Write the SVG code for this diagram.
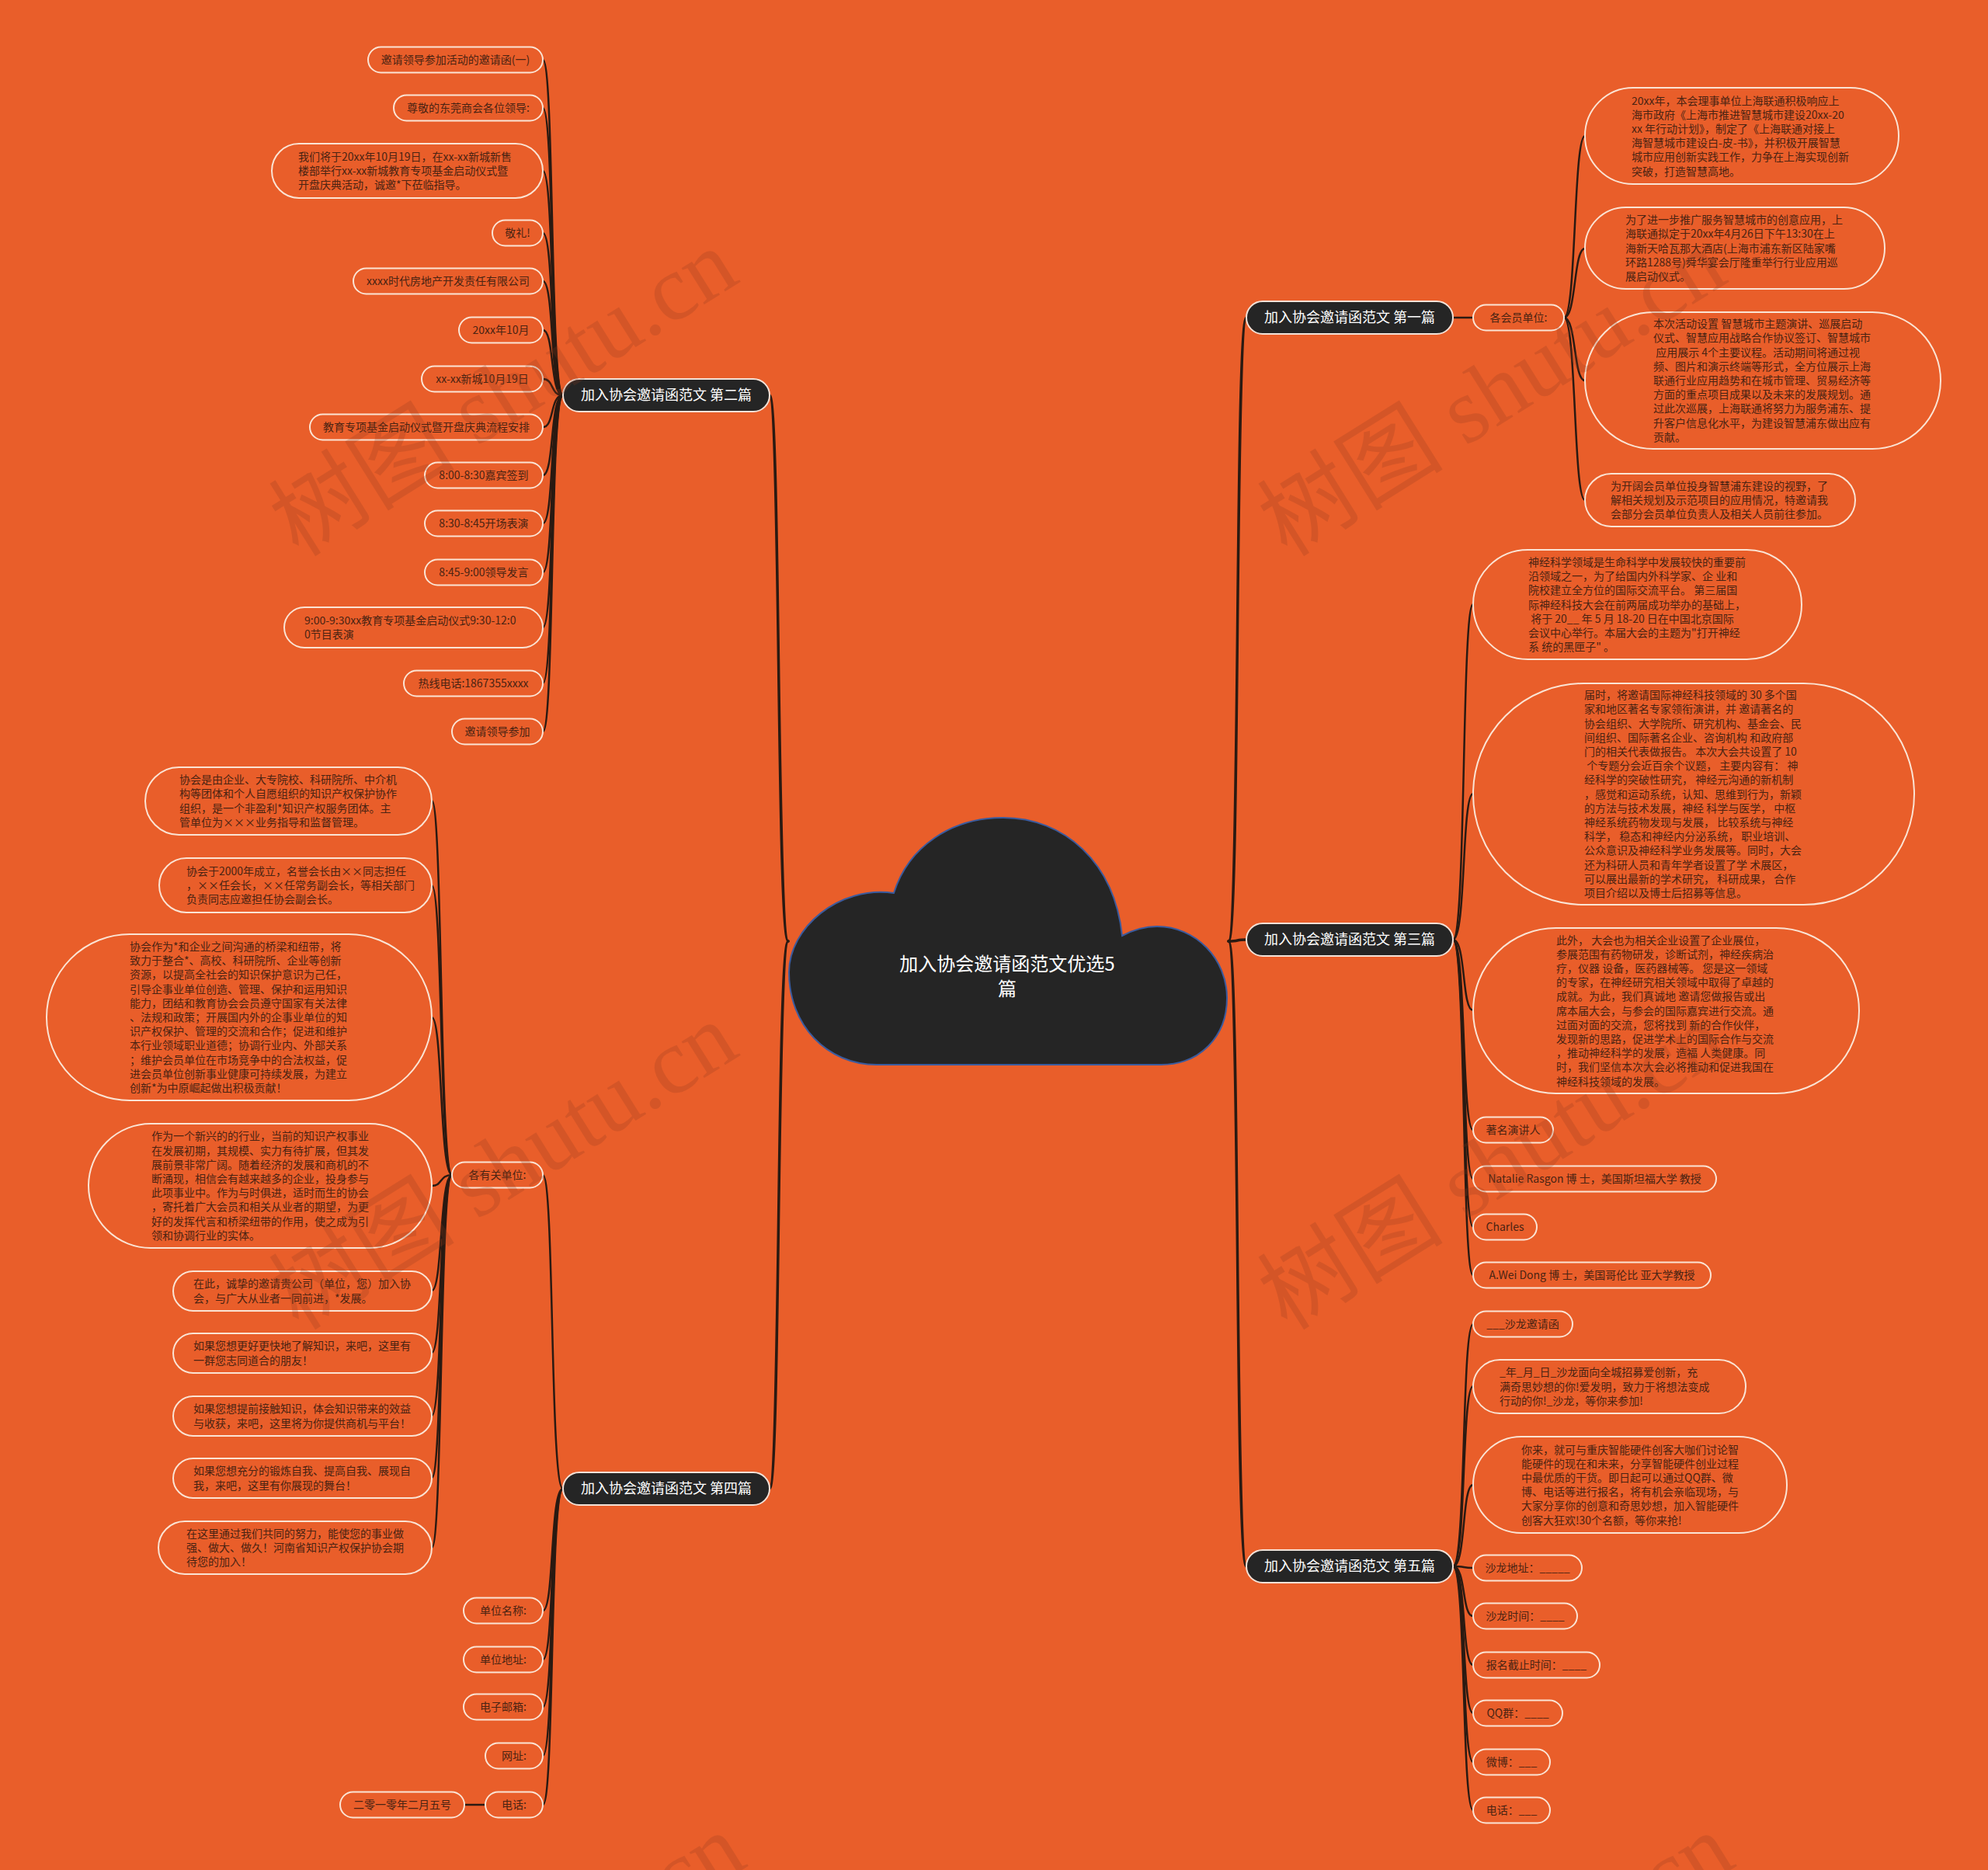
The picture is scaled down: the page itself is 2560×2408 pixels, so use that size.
<svg xmlns="http://www.w3.org/2000/svg" width="2560" height="2408" viewBox="0 0 2560 2408">
<style>
.leaf rect{fill:#E95E2A;stroke:#FBE4D4;stroke-width:2}
.leaf text{font-family:"Noto Sans CJK SC","Noto Sans",sans-serif;font-size:14px;fill:#4A2312}
.c{text-anchor:middle}
.br rect{fill:#252525;stroke:#F3E2D8;stroke-width:2}
.br text{font-family:"Noto Sans CJK SC","Noto Sans",sans-serif;font-size:18px;fill:#FFFFFF;text-anchor:middle}
.ln path{fill:none;stroke:#2A1A12;stroke-width:2.5;stroke-linecap:round}
.ln .m{stroke-width:3.5}
.wm text{font-family:"Liberation Serif","Noto Sans CJK SC",serif;font-size:120px;fill:#8B3A1E;opacity:0.22;text-anchor:middle}
</style>
<rect width="2560" height="2408" fill="#E95E2A"/>

<g id="connectors" class="ln">
<path class="m" d="M1015,1212 C1000,1212 1005,509 991,509"/>
<path class="m" d="M1015,1212 C1000,1212 1005,1917 991,1917"/>
<path class="m" d="M1582,1212 C1597,1212 1590,409 1605,409"/>
<path class="m" d="M1582,1212 C1597,1212 1590,1210 1605,1210"/>
<path class="m" d="M1582,1212 C1597,1212 1590,2017 1605,2017"/>
<path d="M725,509 C708,509 714,77 699,77"/>
<path d="M725,509 C708,509 714,139 699,139"/>
<path d="M725,509 C708,509 714,220 699,220"/>
<path d="M725,509 C708,509 714,300 699,300"/>
<path d="M725,509 C708,509 714,362 699,362"/>
<path d="M725,509 C708,509 714,425 699,425"/>
<path d="M725,509 C708,509 714,488 699,488"/>
<path d="M725,509 C708,509 714,550 699,550"/>
<path d="M725,509 C708,509 714,612 699,612"/>
<path d="M725,509 C708,509 714,674 699,674"/>
<path d="M725,509 C708,509 714,737 699,737"/>
<path d="M725,509 C708,509 714,808 699,808"/>
<path d="M725,509 C708,509 714,880 699,880"/>
<path d="M725,509 C708,509 714,942 699,942"/>
<path d="M725,1917 C708,1917 714,1513 699,1513"/>
<path d="M725,1917 C708,1917 714,2074 699,2074"/>
<path d="M725,1917 C708,1917 714,2137 699,2137"/>
<path d="M725,1917 C708,1917 714,2198 699,2198"/>
<path d="M725,1917 C708,1917 714,2261 699,2261"/>
<path d="M725,1917 C708,1917 714,2324 699,2324"/>
<path d="M625,2324 L598,2324"/>
<path d="M582,1513 C566,1513 570,1031 556,1031"/>
<path d="M582,1513 C566,1513 570,1140 556,1140"/>
<path d="M582,1513 C566,1513 570,1310 556,1310"/>
<path d="M582,1513 C566,1513 570,1527 556,1527"/>
<path d="M582,1513 C566,1513 570,1662 556,1662"/>
<path d="M582,1513 C566,1513 570,1742 556,1742"/>
<path d="M582,1513 C566,1513 570,1823 556,1823"/>
<path d="M582,1513 C566,1513 570,1903 556,1903"/>
<path d="M582,1513 C566,1513 570,1993 556,1993"/>
<path d="M1871,409 L1897,409"/>
<path d="M2014,409 C2030,409 2026,175 2041,175"/>
<path d="M2014,409 C2030,409 2026,320 2041,320"/>
<path d="M2014,409 C2030,409 2026,490 2041,490"/>
<path d="M2014,409 C2030,409 2026,644 2041,644"/>
<path d="M1871,1210 C1888,1210 1882,778 1897,778"/>
<path d="M1871,1210 C1888,1210 1882,1022 1897,1022"/>
<path d="M1871,1210 C1888,1210 1882,1301 1897,1301"/>
<path d="M1871,1210 C1888,1210 1882,1455 1897,1455"/>
<path d="M1871,1210 C1888,1210 1882,1518 1897,1518"/>
<path d="M1871,1210 C1888,1210 1882,1580 1897,1580"/>
<path d="M1871,1210 C1888,1210 1882,1642 1897,1642"/>
<path d="M1871,2017 C1888,2017 1882,1705 1897,1705"/>
<path d="M1871,2017 C1888,2017 1882,1785 1897,1785"/>
<path d="M1871,2017 C1888,2017 1882,1912 1897,1912"/>
<path d="M1871,2017 C1888,2017 1882,2019 1897,2019"/>
<path d="M1871,2017 C1888,2017 1882,2081 1897,2081"/>
<path d="M1871,2017 C1888,2017 1882,2144 1897,2144"/>
<path d="M1871,2017 C1888,2017 1882,2206 1897,2206"/>
<path d="M1871,2017 C1888,2017 1882,2269 1897,2269"/>
<path d="M1871,2017 C1888,2017 1882,2331 1897,2331"/>
</g>

<g id="root">
<path d="M1016,1252 C1016,1195 1080,1140 1151,1150 C1170,1090 1225,1053 1292,1053 C1370,1053 1435,1110 1445,1205 C1460,1197 1475,1193 1490,1193 C1540,1193 1580,1235 1580,1285 C1580,1335 1545,1371 1495,1371 L1129,1371 C1065,1371 1016,1320 1016,1252 Z" fill="#252525" stroke="#3B5B9E" stroke-width="2"/>
<text x="1297" y="1250" font-family="Noto Sans CJK SC,Noto Sans,sans-serif" font-size="24" fill="#FFFFFF" text-anchor="middle">加入协会邀请函范文优选5<tspan x="1297" dy="32">篇</tspan></text>
</g>

<g id="b2" class="br"><rect x="725" y="488" width="266" height="42" rx="21"/><text x="858" y="515">加入协会邀请函范文 第二篇</text></g>
<g id="b4" class="br"><rect x="725" y="1896" width="266" height="42" rx="21"/><text x="858" y="1923">加入协会邀请函范文 第四篇</text></g>
<g id="b1" class="br"><rect x="1605" y="388" width="266" height="42" rx="21"/><text x="1738" y="415">加入协会邀请函范文 第一篇</text></g>
<g id="b3" class="br"><rect x="1605" y="1189" width="266" height="42" rx="21"/><text x="1738" y="1216">加入协会邀请函范文 第三篇</text></g>
<g id="b5" class="br"><rect x="1605" y="1996" width="266" height="42" rx="21"/><text x="1738" y="2023">加入协会邀请函范文 第五篇</text></g>

<g id="l2-1" class="leaf"><rect x="474" y="60.5" width="225" height="33" rx="16.5"/><text class="c" x="586.5" y="82">邀请领导参加活动的邀请函(一)</text></g>
<g id="l2-2" class="leaf"><rect x="507" y="122.5" width="192" height="33" rx="16.5"/><text class="c" x="603" y="144">尊敬的东莞商会各位领导:</text></g>
<g id="l2-3" class="leaf"><rect x="350" y="185" width="349" height="70" rx="35"/><text x="384" y="206.8">我们将于20xx年10月19日，在xx-xx新城新售<tspan x="384" dy="18.2">楼部举行xx-xx新城教育专项基金启动仪式暨</tspan><tspan x="384" dy="18.2">开盘庆典活动，诚邀*下莅临指导。</tspan></text></g>
<g id="l2-4" class="leaf"><rect x="634" y="283.5" width="65" height="33" rx="16.5"/><text class="c" x="666.5" y="305">敬礼!</text></g>
<g id="l2-5" class="leaf"><rect x="455" y="345.5" width="244" height="33" rx="16.5"/><text class="c" x="577" y="367">xxxx时代房地产开发责任有限公司</text></g>
<g id="l2-6" class="leaf"><rect x="591" y="408.5" width="108" height="33" rx="16.5"/><text class="c" x="645" y="430">20xx年10月</text></g>
<g id="l2-7" class="leaf"><rect x="543" y="471.5" width="156" height="33" rx="16.5"/><text class="c" x="621" y="493">xx-xx新城10月19日</text></g>
<g id="l2-8" class="leaf"><rect x="399" y="533.5" width="300" height="33" rx="16.5"/><text class="c" x="549" y="555">教育专项基金启动仪式暨开盘庆典流程安排</text></g>
<g id="l2-9" class="leaf"><rect x="547" y="595.5" width="152" height="33" rx="16.5"/><text class="c" x="623" y="617">8:00-8:30嘉宾签到</text></g>
<g id="l2-10" class="leaf"><rect x="547" y="657.5" width="152" height="33" rx="16.5"/><text class="c" x="623" y="679">8:30-8:45开场表演</text></g>
<g id="l2-11" class="leaf"><rect x="547" y="720.5" width="152" height="33" rx="16.5"/><text class="c" x="623" y="742">8:45-9:00领导发言</text></g>
<g id="l2-12" class="leaf"><rect x="366" y="782" width="333" height="52" rx="26"/><text x="392" y="803.9">9:00-9:30xx教育专项基金启动仪式9:30-12:0<tspan x="392" dy="18.2">0节目表演</tspan></text></g>
<g id="l2-13" class="leaf"><rect x="520" y="863.5" width="179" height="33" rx="16.5"/><text class="c" x="609.5" y="885">热线电话:1867355xxxx</text></g>
<g id="l2-14" class="leaf"><rect x="582" y="925.5" width="117" height="33" rx="16.5"/><text class="c" x="640.5" y="947">邀请领导参加</text></g>

<g id="l4-0" class="leaf"><rect x="582" y="1496.5" width="117" height="33" rx="16.5"/><text class="c" x="640.5" y="1518">各有关单位:</text></g>
<g id="l4-1" class="leaf"><rect x="187" y="988" width="369" height="87" rx="43.5"/><text x="231" y="1009.2">协会是由企业、大专院校、科研院所、中介机<tspan x="231" dy="18.2">构等团体和个人自愿组织的知识产权保护协作</tspan><tspan x="231" dy="18.2">组织，是一个非盈利*知识产权服务团体。主</tspan><tspan x="231" dy="18.2">管单位为×××业务指导和监督管理。</tspan></text></g>
<g id="l4-2" class="leaf"><rect x="205" y="1105" width="351" height="70" rx="35"/><text x="240" y="1126.8">协会于2000年成立，名誉会长由××同志担任<tspan x="240" dy="18.2">，××任会长，××任常务副会长，等相关部门</tspan><tspan x="240" dy="18.2">负责同志应邀担任协会副会长。</tspan></text></g>
<g id="l4-3" class="leaf"><rect x="60" y="1203" width="496" height="214" rx="107"/><text x="167" y="1224">协会作为*和企业之间沟通的桥梁和纽带，将<tspan x="167" dy="18.2">致力于整合*、高校、科研院所、企业等创新</tspan><tspan x="167" dy="18.2">资源，以提高全社会的知识保护意识为己任，</tspan><tspan x="167" dy="18.2">引导企事业单位创造、管理、保护和运用知识</tspan><tspan x="167" dy="18.2">能力，团结和教育协会会员遵守国家有关法律</tspan><tspan x="167" dy="18.2">、法规和政策；开展国内外的企事业单位的知</tspan><tspan x="167" dy="18.2">识产权保护、管理的交流和合作；促进和维护</tspan><tspan x="167" dy="18.2">本行业领域职业道德；协调行业内、外部关系</tspan><tspan x="167" dy="18.2">；维护会员单位在市场竞争中的合法权益，促</tspan><tspan x="167" dy="18.2">进会员单位创新事业健康可持续发展，为建立</tspan><tspan x="167" dy="18.2">创新*为中原崛起做出积极贡献！</tspan></text></g>
<g id="l4-4" class="leaf"><rect x="114" y="1447" width="442" height="160" rx="80"/><text x="195" y="1468.3">作为一个新兴的的行业，当前的知识产权事业<tspan x="195" dy="18.2">在发展初期，其规模、实力有待扩展，但其发</tspan><tspan x="195" dy="18.2">展前景非常广阔。随着经济的发展和商机的不</tspan><tspan x="195" dy="18.2">断涌现，相信会有越来越多的企业，投身参与</tspan><tspan x="195" dy="18.2">此项事业中。作为与时俱进，适时而生的协会</tspan><tspan x="195" dy="18.2">，寄托着广大会员和相关从业者的期望，为更</tspan><tspan x="195" dy="18.2">好的发挥代言和桥梁纽带的作用，使之成为引</tspan><tspan x="195" dy="18.2">领和协调行业的实体。</tspan></text></g>
<g id="l4-5" class="leaf"><rect x="223" y="1637" width="333" height="51" rx="25.5"/><text x="249" y="1658.4">在此，诚挚的邀请贵公司（单位，您）加入协<tspan x="249" dy="18.2">会，与广大从业者一同前进，*发展。</tspan></text></g>
<g id="l4-6" class="leaf"><rect x="223" y="1717" width="333" height="51" rx="25.5"/><text x="249" y="1738.4">如果您想更好更快地了解知识，来吧，这里有<tspan x="249" dy="18.2">一群您志同道合的朋友！</tspan></text></g>
<g id="l4-7" class="leaf"><rect x="223" y="1798" width="333" height="51" rx="25.5"/><text x="249" y="1819.4">如果您想提前接触知识，体会知识带来的效益<tspan x="249" dy="18.2">与收获，来吧，这里将为你提供商机与平台！</tspan></text></g>
<g id="l4-8" class="leaf"><rect x="223" y="1878" width="333" height="51" rx="25.5"/><text x="249" y="1899.4">如果您想充分的锻炼自我、提高自我、展现自<tspan x="249" dy="18.2">我，来吧，这里有你展现的舞台！</tspan></text></g>
<g id="l4-9" class="leaf"><rect x="204" y="1959" width="352" height="68" rx="34"/><text x="240" y="1979.8">在这里通过我们共同的努力，能使您的事业做<tspan x="240" dy="18.2">强、做大、做久！河南省知识产权保护协会期</tspan><tspan x="240" dy="18.2">待您的加入！</tspan></text></g>
<g id="l4-10" class="leaf"><rect x="597" y="2057.5" width="102" height="33" rx="16.5"/><text class="c" x="648" y="2079">单位名称:</text></g>
<g id="l4-11" class="leaf"><rect x="597" y="2120.5" width="102" height="33" rx="16.5"/><text class="c" x="648" y="2142">单位地址:</text></g>
<g id="l4-12" class="leaf"><rect x="597" y="2181.5" width="102" height="33" rx="16.5"/><text class="c" x="648" y="2203">电子邮箱:</text></g>
<g id="l4-13" class="leaf"><rect x="625" y="2244.5" width="74" height="33" rx="16.5"/><text class="c" x="662" y="2266">网址:</text></g>
<g id="l4-14" class="leaf"><rect x="625" y="2307.5" width="74" height="33" rx="16.5"/><text class="c" x="662" y="2329">电话:</text></g>
<g id="l4-15" class="leaf"><rect x="438" y="2307.5" width="160" height="33" rx="16.5"/><text class="c" x="518" y="2329">二零一零年二月五号</text></g>

<g id="l1-0" class="leaf"><rect x="1897" y="392.5" width="117" height="33" rx="16.5"/><text class="c" x="1955.5" y="414">各会员单位:</text></g>
<g id="l1-1" class="leaf"><rect x="2041" y="113" width="404" height="124" rx="62"/><text x="2101" y="134.5">20xx年，本会理事单位上海联通积极响应上<tspan x="2101" dy="18.2">海市政府《上海市推进智慧城市建设20xx-20</tspan><tspan x="2101" dy="18.2">xx 年行动计划》，制定了《上海联通对接上</tspan><tspan x="2101" dy="18.2">海智慧城市建设白-皮-书》，并积极开展智慧</tspan><tspan x="2101" dy="18.2">城市应用创新实践工作，力争在上海实现创新</tspan><tspan x="2101" dy="18.2">突破，打造智慧高地。</tspan></text></g>
<g id="l1-2" class="leaf"><rect x="2041" y="267" width="386" height="105" rx="52.5"/><text x="2093" y="288.1">为了进一步推广服务智慧城市的创意应用，上<tspan x="2093" dy="18.2">海联通拟定于20xx年4月26日下午13:30在上</tspan><tspan x="2093" dy="18.2">海新天哈瓦那大酒店(上海市浦东新区陆家嘴</tspan><tspan x="2093" dy="18.2">环路1288号)舜华宴会厅隆重举行行业应用巡</tspan><tspan x="2093" dy="18.2">展启动仪式。</tspan></text></g>
<g id="l1-3" class="leaf"><rect x="2041" y="402" width="458" height="176" rx="88"/><text x="2129" y="422.2">本次活动设置 智慧城市主题演讲、巡展启动<tspan x="2129" dy="18.2">仪式、智慧应用战略合作协议签订、智慧城市</tspan><tspan x="2129" dy="18.2"> 应用展示 4个主要议程。活动期间将通过视</tspan><tspan x="2129" dy="18.2">频、图片和演示终端等形式，全方位展示上海</tspan><tspan x="2129" dy="18.2">联通行业应用趋势和在城市管理、贸易经济等</tspan><tspan x="2129" dy="18.2">方面的重点项目成果以及未来的发展规划。通</tspan><tspan x="2129" dy="18.2">过此次巡展，上海联通将努力为服务浦东、提</tspan><tspan x="2129" dy="18.2">升客户信息化水平，为建设智慧浦东做出应有</tspan><tspan x="2129" dy="18.2">贡献。</tspan></text></g>
<g id="l1-4" class="leaf"><rect x="2041" y="610" width="348" height="68" rx="34"/><text x="2074" y="630.8">为开阔会员单位投身智慧浦东建设的视野，了<tspan x="2074" dy="18.2">解相关规划及示范项目的应用情况，特邀请我</tspan><tspan x="2074" dy="18.2">会部分会员单位负责人及相关人员前往参加。</tspan></text></g>

<g id="l3-1" class="leaf"><rect x="1897" y="708" width="423" height="141" rx="70.5"/><text x="1968" y="728.9">神经科学领域是生命科学中发展较快的重要前<tspan x="1968" dy="18.2">沿领域之一，为了给国内外科学家、企 业和</tspan><tspan x="1968" dy="18.2">院校建立全方位的国际交流平台。 第三届国</tspan><tspan x="1968" dy="18.2">际神经科技大会在前两届成功举办的基础上，</tspan><tspan x="1968" dy="18.2"> 将于 20__ 年 5 月 18-20 日在中国北京国际</tspan><tspan x="1968" dy="18.2">会议中心举行。本届大会的主题为"打开神经</tspan><tspan x="1968" dy="18.2">系 统的黑匣子" 。</tspan></text></g>
<g id="l3-2" class="leaf"><rect x="1897" y="880" width="568" height="285" rx="142.5"/><text x="2040" y="900.1">届时，将邀请国际神经科技领域的 30 多个国<tspan x="2040" dy="18.2">家和地区著名专家领衔演讲，并 邀请著名的</tspan><tspan x="2040" dy="18.2">协会组织、大学院所、研究机构、基金会、民</tspan><tspan x="2040" dy="18.2">间组织、国际著名企业、咨询机构 和政府部</tspan><tspan x="2040" dy="18.2">门的相关代表做报告。 本次大会共设置了 10</tspan><tspan x="2040" dy="18.2"> 个专题分会近百余个议题， 主要内容有： 神</tspan><tspan x="2040" dy="18.2">经科学的突破性研究， 神经元沟通的新机制</tspan><tspan x="2040" dy="18.2">，感觉和运动系统，认知、思维到行为，新颖</tspan><tspan x="2040" dy="18.2">的方法与技术发展，神经 科学与医学， 中枢</tspan><tspan x="2040" dy="18.2">神经系统药物发现与发展， 比较系统与神经</tspan><tspan x="2040" dy="18.2">科学， 稳态和神经内分泌系统， 职业培训、</tspan><tspan x="2040" dy="18.2">公众意识及神经科学业务发展等。同时，大会</tspan><tspan x="2040" dy="18.2">还为科研人员和青年学者设置了学 术展区，</tspan><tspan x="2040" dy="18.2">可以展出最新的学术研究， 科研成果， 合作</tspan><tspan x="2040" dy="18.2">项目介绍以及博士后招募等信息。</tspan></text></g>
<g id="l3-3" class="leaf"><rect x="1897" y="1195" width="497" height="213" rx="106.5"/><text x="2004" y="1215.5">此外， 大会也为相关企业设置了企业展位，<tspan x="2004" dy="18.2">参展范围有药物研发，诊断试剂，神经疾病治</tspan><tspan x="2004" dy="18.2">疗，仪器 设备，医药器械等。 您是这一领域</tspan><tspan x="2004" dy="18.2">的专家，在神经研究相关领域中取得了卓越的</tspan><tspan x="2004" dy="18.2">成就。为此，我们真诚地 邀请您做报告或出</tspan><tspan x="2004" dy="18.2">席本届大会，与参会的国际嘉宾进行交流。通</tspan><tspan x="2004" dy="18.2">过面对面的交流，您将找到 新的合作伙伴，</tspan><tspan x="2004" dy="18.2">发现新的思路，促进学术上的国际合作与交流</tspan><tspan x="2004" dy="18.2">，推动神经科学的发展，造福 人类健康。同</tspan><tspan x="2004" dy="18.2">时，我们坚信本次大会必将推动和促进我国在</tspan><tspan x="2004" dy="18.2">神经科技领域的发展。</tspan></text></g>
<g id="l3-4" class="leaf"><rect x="1897" y="1438.5" width="103" height="33" rx="16.5"/><text class="c" x="1948.5" y="1460">著名演讲人</text></g>
<g id="l3-5" class="leaf"><rect x="1897" y="1501.5" width="313" height="33" rx="16.5"/><text class="c" x="2053.5" y="1523">Natalie Rasgon 博 士，美国斯坦福大学 教授</text></g>
<g id="l3-6" class="leaf"><rect x="1897" y="1563.5" width="82" height="33" rx="16.5"/><text class="c" x="1938" y="1585">Charles</text></g>
<g id="l3-7" class="leaf"><rect x="1897" y="1625.5" width="306" height="33" rx="16.5"/><text class="c" x="2050" y="1647">A.Wei Dong 博 士，美国哥伦比 亚大学教授</text></g>

<g id="l5-1" class="leaf"><rect x="1897" y="1688.5" width="128" height="33" rx="16.5"/><text class="c" x="1961" y="1710">___沙龙邀请函</text></g>
<g id="l5-2" class="leaf"><rect x="1897" y="1751" width="351" height="69" rx="34.5"/><text x="1931" y="1772.3">_年_月_日_沙龙面向全城招募爱创新，充<tspan x="1931" dy="18.2">满奇思妙想的你!爱发明，致力于将想法变成</tspan><tspan x="1931" dy="18.2">行动的你!_沙龙，等你来参加!</tspan></text></g>
<g id="l5-3" class="leaf"><rect x="1897" y="1850" width="404" height="124" rx="62"/><text x="1959" y="1871.5">你来，就可与重庆智能硬件创客大咖们讨论智<tspan x="1959" dy="18.2">能硬件的现在和未来，分享智能硬件创业过程</tspan><tspan x="1959" dy="18.2">中最优质的干货。即日起可以通过QQ群、微</tspan><tspan x="1959" dy="18.2">博、电话等进行报名，将有机会亲临现场，与</tspan><tspan x="1959" dy="18.2">大家分享你的创意和奇思妙想，加入智能硬件</tspan><tspan x="1959" dy="18.2">创客大狂欢!30个名额，等你来抢!</tspan></text></g>
<g id="l5-4" class="leaf"><rect x="1897" y="2002.5" width="140" height="33" rx="16.5"/><text class="c" x="1967" y="2024">沙龙地址：_____</text></g>
<g id="l5-5" class="leaf"><rect x="1897" y="2064.5" width="134" height="33" rx="16.5"/><text class="c" x="1964" y="2086">沙龙时间：____</text></g>
<g id="l5-6" class="leaf"><rect x="1897" y="2127.5" width="163" height="33" rx="16.5"/><text class="c" x="1978.5" y="2149">报名截止时间：____</text></g>
<g id="l5-7" class="leaf"><rect x="1897" y="2189.5" width="115" height="33" rx="16.5"/><text class="c" x="1954.5" y="2211">QQ群：____</text></g>
<g id="l5-8" class="leaf"><rect x="1897" y="2252.5" width="99" height="33" rx="16.5"/><text class="c" x="1946.5" y="2274">微博：___</text></g>
<g id="l5-9" class="leaf"><rect x="1897" y="2314.5" width="99" height="33" rx="16.5"/><text class="c" x="1946.5" y="2336">电话：___</text></g>

<g id="watermarks" class="wm">
<text transform="translate(670,540) rotate(-32)">树图 shutu.cn</text>
<text transform="translate(1943,540) rotate(-32)">树图 shutu.cn</text>
<text transform="translate(670,1536) rotate(-32)">树图 shutu.cn</text>
<text transform="translate(1943,1536) rotate(-32)">树图 shutu.cn</text>
<text transform="translate(680,2580) rotate(-32)">树图 shutu.cn</text>
<text transform="translate(1953,2580) rotate(-32)">树图 shutu.cn</text>
</g>
</svg>
